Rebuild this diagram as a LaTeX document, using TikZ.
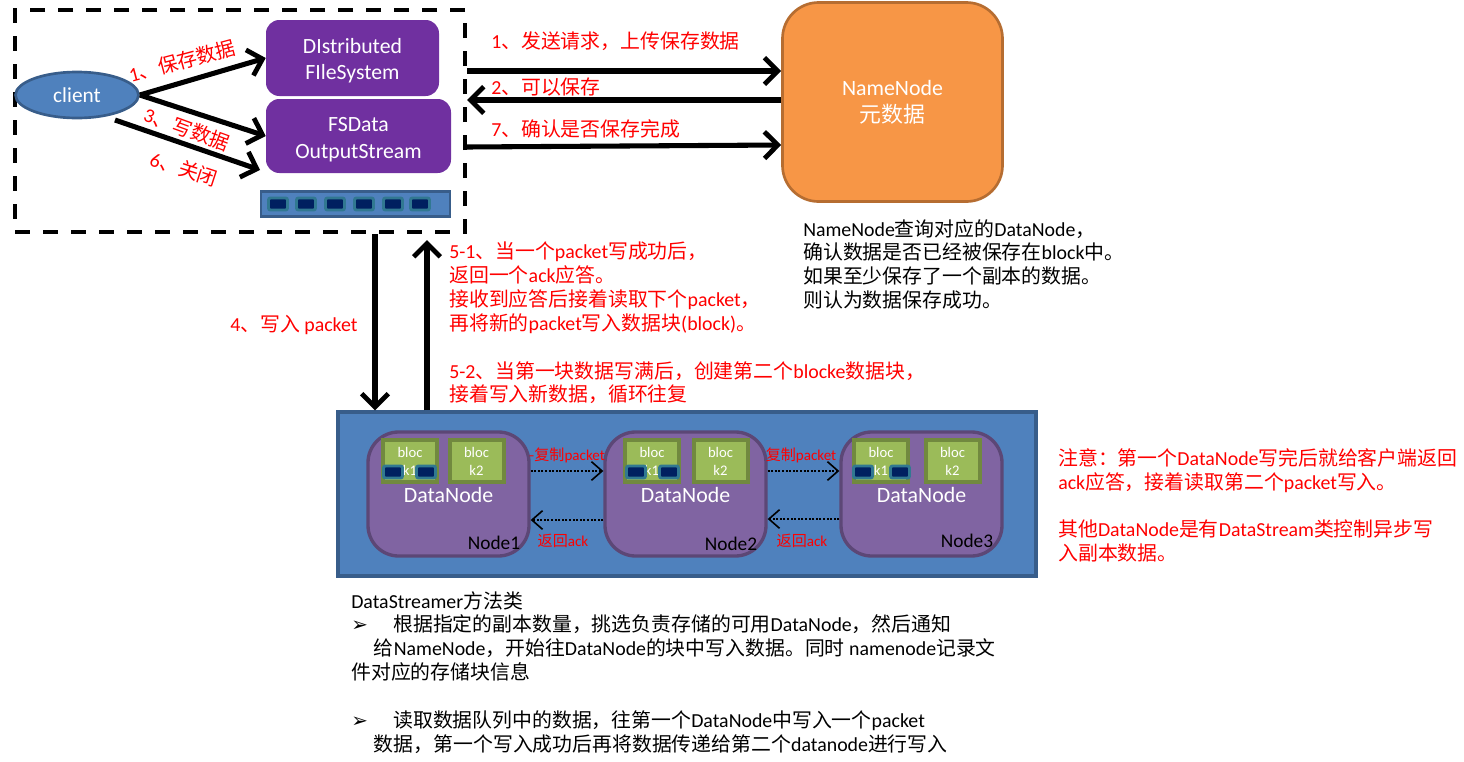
\documentclass[tikz,border=0pt]{standalone}
\usepackage{fontspec}
\setmainfont{Noto Sans CJK SC}
\newfontfamily\lat{Carlito}
\newfontfamily\sym{DejaVu Sans}
\usetikzlibrary{arrows.meta}
\usetikzlibrary{shapes.geometric}
\newcommand{\la}[1]{{\lat #1}}
\newdimen\pxu \pxu=0.75pt
\normallineskiplimit=-20pt
\lineskiplimit=-20pt
\definecolor{bluefill}{RGB}{79,129,189}
\definecolor{blueline}{RGB}{56,93,138}
\definecolor{purplefill}{RGB}{112,48,160}
\definecolor{orangefill}{RGB}{247,150,70}
\definecolor{orangeline}{RGB}{182,109,49}
\definecolor{nodefill}{RGB}{128,100,162}
\definecolor{nodeline}{RGB}{92,71,118}
\definecolor{blockfill}{RGB}{155,187,89}
\definecolor{blockline}{RGB}{113,137,63}
\definecolor{slotfill}{RGB}{0,32,96}
\definecolor{slotline}{RGB}{49,120,145}
\tikzset{
  bigarrow/.style={draw=black,line width=3.8pt,-{Straight Barb[length=10pt,width=20pt,line width=3.6pt]}},
  dotarrow/.style={draw=black,line width=1.2pt,dash pattern=on 1.5pt off 1.2pt,-{Straight Barb[length=8pt,width=14pt,line width=1.2pt,sep=0pt]}},
  clientframe/.style={draw=black,line width=3pt,dash pattern=on 11pt off 10pt},
  purplebox/.style={fill=purplefill,rounded corners=10pt,text=white,align=center,font=\lat\fontsize{16.3}{20}\selectfont},
  bufferbox/.style={fill=bluefill,draw=blueline,line width=2pt},
  slotbox/.style={fill=slotfill,draw=slotline,line width=2.2pt,rounded corners=1.5pt,minimum width=19*\pxu,minimum height=12*\pxu,inner sep=0pt},
  datanode/.style={fill=nodefill,draw=nodeline,line width=2.5pt,rounded corners=23pt,minimum width=161*\pxu,minimum height=124*\pxu},
  blockbox/.style={fill=blockfill,draw=blockline,line width=3pt,minimum width=54*\pxu,minimum height=42*\pxu,inner sep=0pt,text=white,align=center,font=\lat\fontsize{11}{13.5}\selectfont},
  redtext/.style={text=red,inner sep=0pt,font=\fontsize{14.9}{17.9}\selectfont},
  smallred/.style={text=red,inner sep=0pt,font=\fontsize{11.3}{13}\selectfont},
  blacktext/.style={text=black,inner sep=0pt,align=left,anchor=north west,font=\fontsize{14.9}{17.9}\selectfont},
}
\begin{document}
\begin{tikzpicture}[x=0.75pt,y=0.75pt,yscale=-1,xscale=1]
\useasboundingbox (0,0) rectangle (1464,761);

% client side
\node (clientframe) [clientframe,minimum width=450*\pxu,minimum height=222*\pxu] at (240,121) {};
\node (client) [ellipse,fill=bluefill,draw=blueline,line width=2pt,minimum width=123*\pxu,minimum height=46*\pxu,inner sep=0pt,text=white,font=\lat\fontsize{16}{19}\selectfont] at (77,95) {client};
\node (dfs) [purplebox,minimum width=173*\pxu,minimum height=76*\pxu] at (352.5,58) {\rule{0pt}{15.5pt}DIstributed\\FIleSystem};
\node (fsdata) [purplebox,minimum width=185*\pxu,minimum height=74*\pxu] at (358.5,136) {\rule{0pt}{16pt}FSData\\OutputStream};
\node (buffer) [bufferbox,minimum width=189*\pxu,minimum height=25*\pxu] at (355.5,204) {};
\foreach \i/\slotx in {1/278,2/306,3/335,4/364,5/393,6/420}
  \node (slot\i) [slotbox] at (\slotx,204) {};

% NameNode
\node (namenode) [fill=orangefill,draw=orangeline,line width=2pt,rounded corners=27pt,minimum width=220*\pxu,minimum height=199*\pxu,text=white,align=center,font=\fontsize{16.4}{20}\selectfont] at (892.5,102) {\la{NameNode}\\元数据};

% DataNodes
\node (cluster) [fill=bluefill,draw=blueline,line width=2.5pt,minimum width=698*\pxu,minimum height=164*\pxu] at (687,494) {};
\foreach \n/\cx/\bax/\bbx/\sax/\sbx/\lx/\ly in {1/448.5/410/476.5/393/426/494/543,2/685.5/652/720.5/636/669/731/544,3/921.5/881/952.5/863/900/967/541}{
  \node (node\n) [datanode] at (\cx,494) {};
  \node (block\n a) [blockbox] at (\bax,461) {bloc\\k1};
  \node (block\n b) [blockbox] at (\bbx,461) {bloc\\k2};
  \node (slot\n a) [slotbox] at (\sax,472) {};
  \node (slot\n b) [slotbox] at (\sbx,472) {};
  \node (dn\n) [text=white,inner sep=0pt,font=\lat\fontsize{16.4}{19}\selectfont] at (\cx,495) {DataNode};
  \node (name\n) [inner sep=0pt,font=\lat\fontsize{14.5}{17}\selectfont] at (\lx,\ly) {Node\n};
}

%Straight Lines
\draw [bigarrow] (client.east) -- (dfs.west);
\draw [bigarrow] (client.east) -- (fsdata.west);
\coordinate (closestart) at (115,120);
\coordinate (closeend) at (260,170);
\draw [bigarrow] (closestart) -- (closeend);
\draw [bigarrow] (clientframe.east |- 0,71) -- (namenode.west |- 0,71);
\draw [bigarrow] (namenode.west |- 0,100) -- (clientframe.east |- 0,100);
\draw [bigarrow] (clientframe.east |- 0,147) -- (namenode.west |- 0,145);
\draw [bigarrow] (clientframe.south -| 375,0) -- (cluster.north -| 375,0);
\draw [bigarrow] (cluster.north -| 427,0) -- (427,240);
\draw [dotarrow] (node1.east |- 0,471) -- (node2.west |- 0,471);
\draw [dotarrow] (node2.west |- 0,520) -- (node1.east |- 0,520);
\draw [dotarrow] (node2.east |- 0,471) -- (node3.west |- 0,471);
\draw [dotarrow] (node3.west |- 0,519) -- (node2.east |- 0,519);

% Text Node
\node (save) [redtext,rotate=15] at (182,61) {\la{1}、保存数据};
\node (write) [redtext,rotate=-20] at (187,129) {\la{3}、写数据};
\node (shut) [redtext,rotate=-18] at (184,169) {\la{6}、关闭};
\node (request) [redtext,anchor=west] at (491,41) {\la{1}、发送请求，上传保存数据};
\node (allow) [redtext,anchor=west] at (491,87) {\la{2}、可以保存};
\node (confirm) [redtext,anchor=west] at (491,129) {\la{7}、确认是否保存完成};
\node (putpacket) [redtext,anchor=west] at (230,325) {\la{4}、写入 \la{packet}};
\node (ackinfo) [redtext,align=left,anchor=north west] at (449,242) {\la{5-1}、当一个\la{packet}写成功后，\\返回一个\la{ack}应答。\\接收到应答后接着读取下个\la{packet}，\\再将新的\la{packet}写入数据块\la{(block)}。};
\node (fullinfo) [redtext,align=left,anchor=north west] at (449,361) {\la{5-2}、当第一块数据写满后，创建第二个\la{blocke}数据块，\\接着写入新数据，循环往复};
\node (notice) [redtext,align=left,anchor=north west] at (1058,448) {注意：第一个\la{DataNode}写完后就给客户端返回\\\la{ack}应答，接着读取第二个\la{packet}写入。\\[17.9pt]其他\la{DataNode}是有\la{DataStream}类控制异步写\\入副本数据。};
\node (query) [blacktext] at (803,219) {\la{NameNode}查询对应的\la{DataNode}，\\确认数据是否已经被保存在\la{block}中。\\如果至少保存了一个副本的数据。\\则认为数据保存成功。};
\node (streamer) [blacktext] at (351,591) {\la{DataStreamer}方法类\\
\makebox[31.5pt][l]{\sym ➢}根据指定的副本数量，挑选负责存储的可用\la{DataNode}，然后通知\\
\hspace*{17pt}给\la{NameNode}，开始往\la{DataNode}的块中写入数据。同时 \la{namenode}记录文\\
件对应的存储块信息\\[17.9pt]
\makebox[31.5pt][l]{\sym ➢}读取数据队列中的数据，往第一个\la{DataNode}中写入一个\la{packet}\\
\hspace*{17pt}数据，第一个写入成功后再将数据传递给第二个\la{datanode}进行写入};
\node (copy1) [smallred] at (567,455) {-复制\la{packet}};
\node (copy2) [smallred] at (801,455) {复制\la{packet}};
\node (back1) [smallred] at (563,541) {返回\la{ack}};
\node (back2) [smallred] at (802,541) {返回\la{ack}};
\end{tikzpicture}
\end{document}
